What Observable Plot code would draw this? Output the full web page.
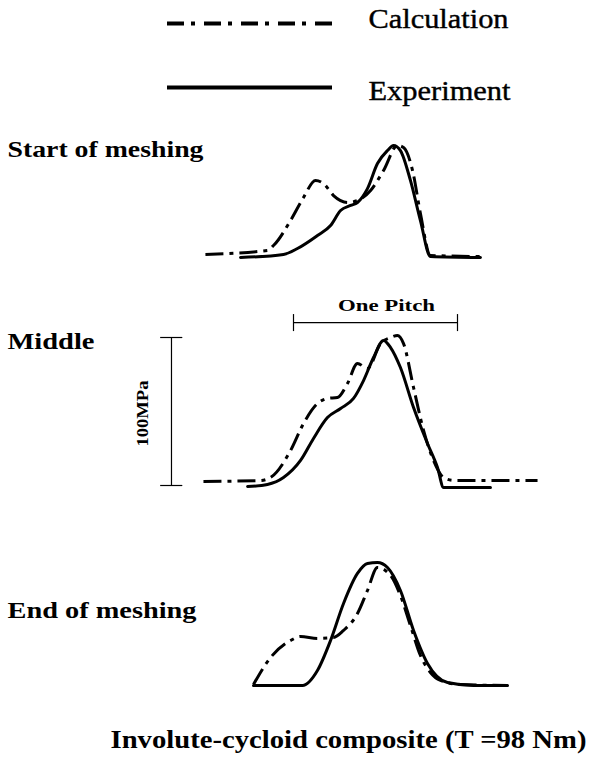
<!DOCTYPE html>
<html><head><meta charset="utf-8">
<script src="https://cdn.jsdelivr.net/npm/d3@7"></script>
<script src="https://cdn.jsdelivr.net/npm/@observablehq/plot@0.6"></script>
<style>
body{margin:0;background:#fff;}
#chart{width:606px;height:761px;position:relative;overflow:hidden;background:#fff;}
#chart svg{display:block;}
</style></head><body><div id="chart"></div>
<script>
// Series and panels
const series = ["Calculation", "Experiment"];
const panels = ["Start of meshing", "Middle", "End of meshing"];
const captionText = "Involute-cycloid composite (T =98 Nm)";
// x: position along the tooth (% of one pitch), y: stress (MPa)
const startCalcX = [-53.7,-15.9,-12.2,-1.8,6.1,13.4,18.3,24.4,32.9,39.0,47.0,54.9,63.4,67.1,72.6,77.4,83.5,114.0];
const startCalcY = [1.4,4.1,7.4,24.3,39.9,51.4,49.3,41.2,36.5,37.8,44.6,58.1,75.0,73.6,58.1,29.1,0.7,0];
const startExpX  = [-32.3,-6.1,2.4,14.6,22.6,28.7,34.8,39.0,45.1,51.2,57.3,61.0,65.2,71.3,77.4,83.5,114.0];
const startExpY  = [-0.7,1.4,5.4,14.2,20.9,31.1,34.5,36.5,45.9,62.8,71.6,75.0,71.6,51.4,24.3,0,-0.7];
const midCalcX = [-54.9,-20.1,-14.0,-1.8,6.1,14.6,20.7,26.8,32.9,39.0,45.1,53.1,59.2,63.4,67.1,73.2,79.3,85.4,91.5,97.6,148.8];
const midCalcY = [2.7,3.4,5.4,23.6,41.9,55.4,58.8,59.5,68.9,82.4,79.1,95.9,100.0,101.4,95.9,66.2,37.2,16.9,5.4,3.4,3.4];
const midExpX  = [-28.0,-15.9,-6.1,4.3,12.2,20.7,28.7,36.6,42.7,48.8,54.9,59.2,65.2,73.2,81.7,87.8,91.5,120.1];
const midExpY  = [-0.7,0.7,5.4,16.9,31.8,45.9,52.0,58.8,70.9,86.5,98.0,93.2,79.7,52.7,28.4,12.2,-1.4,-1.4];
const endCalcX = [-24.4,-14.0,-1.8,4.3,14.6,24.4,30.5,39.0,45.1,51.2,59.2,65.2,71.3,77.4,83.5,89.6,101.8,130.5];
const endCalcY = [0.7,18.9,30.4,33.1,31.8,32.4,37.2,48.6,64.2,79.7,74.3,60.8,40.5,20.3,8.8,3.4,0.7,0];
const endExpX  = [-24.4,5.5,14.6,22.6,30.5,39.0,45.1,51.2,57.3,65.2,73.2,81.7,93.9,109.8,130.5];
const endExpY  = [0,0,10.1,30.4,55.4,75.7,82.4,83.1,79.7,64.2,37.2,14.9,2.0,0,0];
// scale bars
const pitchTicks = [0, 100];      // one pitch, % of pitch
const stressTicks = [0, 100];     // 100 MPa bar

const toRows = (xs, ys) => xs.map((x, i) => ({x, y: ys[i]}));
const FONT = "Liberation Serif";
const dash = "18,6,4,6";

// stretch text to the wide lettering of the original
function stretch(svg, cls, width) {
  d3.select(svg).selectAll("." + cls + " text")
    .attr("textLength", width).attr("lengthAdjust", "spacingAndGlyphs");
  return svg;
}

function panel(label, calc, exp, height, baseline, labelY, labelW, extras = []) {
  const svg = Plot.plot({
    width: 606, height,
    margin: 0,
    style: {background: "transparent", overflow: "visible"},
    x: {domain: [0, 100], range: [293, 457], axis: null},
    y: {domain: [0, 100], range: [baseline, baseline - 148], axis: null},
    marks: [
      Plot.line(exp, {x: "x", y: "y", stroke: "black", strokeWidth: 3, curve: "monotone-x"}),
      Plot.line(calc, {x: "x", y: "y", stroke: "black", strokeWidth: 3, curve: "monotone-x",
        strokeDasharray: dash, strokeLinecap: "butt"}),
      Plot.text([label], {frameAnchor: "top-left", dx: 7, dy: labelY, textAnchor: "start", lineAnchor: "bottom",
        fontSize: 23.5, fontWeight: "bold", fontFamily: FONT, fill: "black", className: "plabel"}),
      ...extras
    ]
  });
  return stretch(svg, "plabel", labelW);
}

const chart = document.getElementById("chart");

// legend
const legend = Plot.plot({
  width: 606, height: 118, margin: 0,
  x: {domain: [0, 1], range: [167, 332], axis: null},
  y: {type: "point", domain: series, range: [23, 87], padding: 0, axis: null},
  marks: [
    Plot.ruleY([series[0]], {y: d => d, x1: 0, x2: 1, strokeWidth: 4, strokeDasharray: "17,7,4,9", strokeLinecap: "butt"}),
    Plot.ruleY([series[1]], {y: d => d, x1: 0, x2: 1, strokeWidth: 4}),
    Plot.text([series[0]], {x: 1, y: d => d, dx: 36, dy: 4, textAnchor: "start", lineAnchor: "bottom",
      fontSize: 27, fontFamily: FONT, fill: "black", stroke: "black", strokeWidth: 0.4, className: "lg0"}),
    Plot.text([series[1]], {x: 1, y: d => d, dx: 36, dy: 12, textAnchor: "start", lineAnchor: "bottom",
      fontSize: 27, fontFamily: FONT, fill: "black", stroke: "black", strokeWidth: 0.4, className: "lg1"})
  ]
});
stretch(legend, "lg0", 140);
stretch(legend, "lg1", 142);
chart.append(legend);

chart.append(panel(panels[0], toRows(startCalcX, startCalcY), toRows(startExpX, startExpY), 152, 138, 38, 196));

const midExtras = [
  Plot.ruleY([110], {x1: pitchTicks[0], x2: pitchTicks[1], strokeWidth: 1.2}),
  Plot.ruleX(pitchTicks, {y1: 104, y2: 115.5, strokeWidth: 1.2}),
  Plot.text(["One Pitch"], {x: 56.7, y: 118, lineAnchor: "bottom", fontSize: 17, fontWeight: "bold",
    fontFamily: FONT, fill: "black", className: "pitch"}),
  Plot.ruleX([-74.4], {y1: stressTicks[0], y2: stressTicks[1], strokeWidth: 1.2}),
  Plot.ruleY(stressTicks, {x1: -81, x2: -67.5, strokeWidth: 1.2}),
  Plot.text(["100MPa"], {x: -89, y: 48.6, rotate: -90, lineAnchor: "bottom", fontSize: 17, fontWeight: "bold",
    fontFamily: FONT, fill: "black", className: "mpa"})
];
const mid = panel(panels[1], toRows(midCalcX, midCalcY), toRows(midExpX, midExpY), 235, 215, 78, 87, midExtras);
stretch(mid, "pitch", 97);
stretch(mid, "mpa", 66);
chart.append(mid);

chart.append(panel(panels[2], toRows(endCalcX, endCalcY), toRows(endExpX, endExpY), 195, 180, 112, 189));

// caption
const caption = Plot.plot({
  width: 606, height: 61, margin: 0,
  marks: [
    Plot.text([captionText], {frameAnchor: "top-left", dx: 110, dy: 47, textAnchor: "start", lineAnchor: "bottom",
      fontSize: 25, fontWeight: "bold", fontFamily: FONT, fill: "black", className: "cap"})
  ]
});
stretch(caption, "cap", 476);
chart.append(caption);
</script>
</body></html>
